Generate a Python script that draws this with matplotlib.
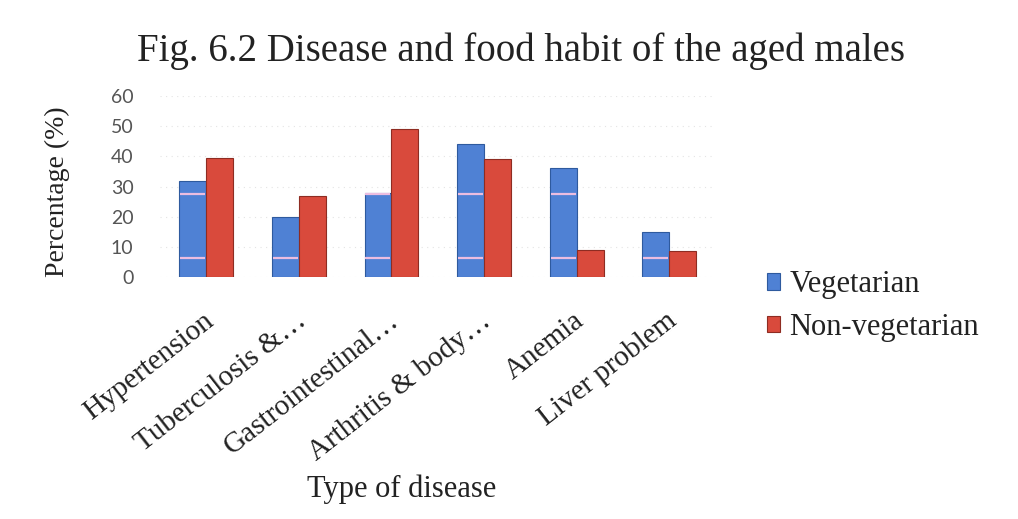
import matplotlib
matplotlib.use("Agg")
import matplotlib.pyplot as plt
import numpy as np

# disease categories and percentages for each diet group
diseases = ["Hypertension", "Tuberculosis &…", "Gastrointestinal…",
            "Arthritis & body…", "Anemia", "Liver problem"]
vegetarian = [32, 20, 28, 44, 36, 15]
non_vegetarian = [39.5, 27, 49, 39, 9, 8.5]
yticks = [0, 10, 20, 30, 40, 50, 60]

serif = "Liberation Serif"
blue, blue_edge = "#4f81d4", "#2e5a9e"
red, red_edge = "#d94a3c", "#8e2c22"

fig = plt.figure(figsize=(10.18, 5.19), dpi=100)
ax = fig.add_axes([0.157, 0.466, 0.546, 0.349])

x = np.arange(len(diseases))
w = 0.29
ax.bar(x - w / 2, vegetarian, w, color=blue, edgecolor=blue_edge,
       linewidth=0.8, label="Vegetarian", zorder=3)
ax.bar(x + w / 2, non_vegetarian, w, color=red, edgecolor=red_edge,
       linewidth=0.8, label="Non-vegetarian", zorder=3)

# light sheen stripes across the blue bars
for xi, v in zip(x, vegetarian):
    for lvl in (6.5, 27.5):
        if v > lvl:
            ax.hlines(lvl, xi - w + 0.01, xi - 0.01, color="#ecbde0",
                      linewidth=1.6, zorder=4)

ax.set_xlim(-0.5, len(diseases) - 0.5)
ax.set_ylim(0, 60)
ax.set_yticks(yticks)
ax.set_yticklabels([str(t) for t in yticks], fontfamily="Lato",
                   fontsize=14, color="#555555")
ax.yaxis.grid(True, color="#e4e4e4", linestyle=(0, (1, 4)), linewidth=0.8)
ax.set_axisbelow(True)
ax.tick_params(axis="y", length=0, pad=19)

ax.set_xticks(x - 0.04)
ax.set_xticklabels(diseases, rotation=38, ha="right",
                   rotation_mode="anchor", fontfamily=serif, fontsize=21,
                   color="#222222")
ax.tick_params(axis="x", length=0, pad=22)

for s in ax.spines.values():
    s.set_visible(False)

fig.text(0.512, 0.902, "Fig. 6.2 Disease and food habit of the aged males",
         ha="center", va="center", fontfamily=serif, fontsize=28,
         color="#222222")
fig.text(0.056, 0.63, "Percentage (%)", rotation=90, ha="center",
         va="center", fontfamily=serif, fontsize=20, color="#222222")
fig.text(0.395, 0.058, "Type of disease", ha="center", va="center",
         fontfamily=serif, fontsize=22, color="#222222")

fig.legend(loc="center left", bbox_to_anchor=(0.726, 0.41),
           frameon=False, prop={"family": serif, "size": 22},
           handlelength=0.45, handleheight=0.45, handletextpad=0.3,
           labelspacing=0.45, labelcolor="#222222")

fig.savefig("out.png", dpi=100, facecolor="white")
